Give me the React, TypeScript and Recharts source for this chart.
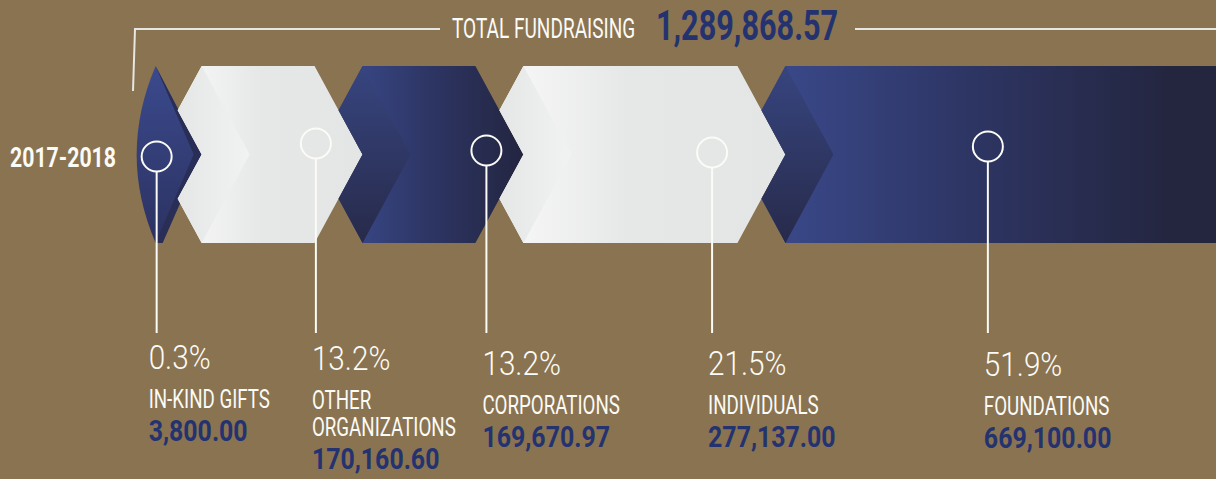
import React from 'react';
import { BarChart, Bar, XAxis, YAxis } from 'recharts';

// ---- data ----
const YEAR = '2017-2018';
const TITLE = 'TOTAL FUNDRAISING';
const CATEGORIES = ['IN-KIND GIFTS', 'OTHER\nORGANIZATIONS', 'CORPORATIONS', 'INDIVIDUALS', 'FOUNDATIONS'];
const SHARES = [0.3, 13.2, 13.2, 21.5, 51.9];
const AMOUNTS = [3800.0, 170160.6, 169670.97, 277137.0, 669100.0];

const KEYS = SHARES.map((_, i) => `s${i}`);
const chartData = [
  KEYS.reduce((row: any, k, i) => ({ ...row, [k]: SHARES[i] }), { year: YEAR }),
];
const total = AMOUNTS.reduce((a, b) => a + b, 0);
const money = (v: number) =>
  v.toLocaleString('en-US', { minimumFractionDigits: 2, maximumFractionDigits: 2 });

// ---- look ----
const BG = '#8a7350';
const NAVY = '#24336f';
const WHITE = '#fbfbf7';
const FONT = 'Roboto, "Liberation Sans", sans-serif';
const ARROW = 48; // horizontal depth of each chevron point
const MARKER_AT = [0, 0.71, 0.77, 0.72, 0.32]; // marker position inside each segment
const MARKER_DY = [2, -11, -4, -2, -8];
const LABEL_Y = [369, 370, 375, 375, 376];

const Squeezed = ({ x, y, sx, size, weight, fill, children }: any) => (
  <text
    transform={`translate(${x},${y}) scale(${sx},1)`}
    fontFamily={FONT}
    fontSize={size}
    fontWeight={weight}
    fill={fill}
  >
    {children}
  </text>
);

const renderSegment = (props: any, i: number) => {
  const { x, y, width, height } = props;
  const top = y;
  const bot = y + height;
  const mid = y + height / 2;
  const q = height / 4;
  const x0 = x;
  const x1 = x + width;
  const d = ARROW;
  const dark = i % 2 === 0;
  const last = i === SHARES.length - 1;

  let shapes: React.ReactNode;
  let cx: number;
  let tx: number;
  if (i === 0) {
    const r = x1 - d + 2;
    cx = r + 1;
    tx = cx - 8;
    shapes = (
      <>
        <path d={`M${r},${top} L${x1},${mid} L${r},${bot} Q${r - 38},${mid} ${r},${top} Z`} fill="url(#lens)" />
        <path
          d={`M${r},${top} L${x1},${mid} L${r + 7},${bot} L${r},${bot} L${x1 - 8},${mid} Z`}
          fill="#292e56"
        />
      </>
    );
  } else {
    const left = `M${x0},${top} L${x0 - d / 2},${top + q} L${x0},${mid} L${x0 - d / 2},${bot - q} L${x0},${bot}`;
    const right = last
      ? `L${x1 - height / 2},${bot} A${height / 2},${height / 2} 0 0 0 ${x1 - height / 2},${top} Z`
      : `L${x1 - d},${bot} L${x1},${mid} L${x1 - d},${top} Z`;
    cx = x0 + MARKER_AT[i] * width;
    tx = cx - 4;
    const bodyFill = dark ? (last ? 'url(#darkBodyLong)' : 'url(#darkBody)') : 'url(#lightBody)';
    shapes = (
      <>
        <path d={`${left} ${right}`} fill={bodyFill} />
        <path d={`${left} L${x0 + d},${mid} Z`} fill={dark ? 'url(#darkFacet)' : 'url(#lightFacet)'} />
      </>
    );
  }

  const cy = mid + MARKER_DY[i];
  const py = LABEL_Y[i];
  const lines = CATEGORIES[i].split('\n');
  const nameY = py + 39;
  const valueY = nameY + (lines.length - 1) * 27 + 33;

  return (
    <g>
      {shapes}
      <circle cx={cx} cy={cy} r={15} fill="none" stroke={WHITE} strokeWidth={2} />
      <line x1={cx} y1={cy + 15} x2={cx} y2={333} stroke={WHITE} strokeWidth={2} />
      <Squeezed x={tx} y={py} sx={0.9} size={33} weight={300} fill={WHITE}>
        {`${SHARES[i]}%`}
      </Squeezed>
      {lines.map((t, k) => (
        <Squeezed key={k} x={tx} y={nameY + k * 27} sx={0.75} size={25} weight={400} fill={WHITE}>
          {t}
        </Squeezed>
      ))}
      <Squeezed x={tx} y={valueY} sx={0.83} size={30} weight={700} fill={NAVY}>
        {money(AMOUNTS[i])}
      </Squeezed>
    </g>
  );
};

const YearTick = ({ y, payload }: any) => (
  <Squeezed x={10} y={y + 12.5} sx={0.76} size={28} weight={700} fill={WHITE}>
    {payload.value}
  </Squeezed>
);

export default function App() {
  return (
    <div
      style={{
        position: 'absolute',
        left: 0,
        top: 0,
        width: 1216,
        height: 479,
        overflow: 'hidden',
        background: BG,
      }}
    >
      <svg width={0} height={0} style={{ position: 'absolute' }}>
        <defs>
          <linearGradient id="darkBody" x1="0" y1="0" x2="1" y2="0">
            <stop offset="0%" stopColor="#3b4a8d" />
            <stop offset="50%" stopColor="#2d3563" />
            <stop offset="100%" stopColor="#232540" />
          </linearGradient>
          <linearGradient id="darkBodyLong" x1="0" y1="0" x2="1" y2="0">
            <stop offset="0%" stopColor="#3b4a8d" />
            <stop offset="32%" stopColor="#2d3563" />
            <stop offset="62%" stopColor="#242640" />
            <stop offset="100%" stopColor="#22243c" />
          </linearGradient>
          <linearGradient id="darkFacet" x1="0" y1="0" x2="0" y2="1">
            <stop offset="0%" stopColor="#37457f" />
            <stop offset="100%" stopColor="#272a4a" />
          </linearGradient>
          <linearGradient id="lightBody" x1="0" y1="0" x2="1" y2="0">
            <stop offset="0%" stopColor="#f8f8f8" />
            <stop offset="45%" stopColor="#e6e8e7" />
            <stop offset="100%" stopColor="#e4e6e5" />
          </linearGradient>
          <linearGradient id="lightFacet" x1="0" y1="0" x2="1" y2="0">
            <stop offset="0%" stopColor="#e5e7e6" />
            <stop offset="100%" stopColor="#f1f2f2" />
          </linearGradient>
          <linearGradient id="lens" x1="0" y1="0" x2="0" y2="1">
            <stop offset="0%" stopColor="#3b4a8d" />
            <stop offset="100%" stopColor="#2c3261" />
          </linearGradient>
        </defs>
      </svg>

      <BarChart
        width={1438}
        height={479}
        data={chartData}
        layout="vertical"
        margin={{ top: 56, right: 20, bottom: 226, left: 0 }}
        barCategoryGap="0%"
        barSize={177}
      >
        <XAxis type="number" domain={[0, 'dataMax']} hide />
        <YAxis
          type="category"
          dataKey="year"
          width={198}
          axisLine={false}
          tickLine={false}
          tick={<YearTick />}
        />
        {KEYS.map((k, i) => (
          <Bar
            key={k}
            dataKey={k}
            stackId="total"
            isAnimationActive={false}
            shape={(p: any) => renderSegment(p, i)}
          />
        ))}
      </BarChart>

      <svg
        width={1216}
        height={479}
        style={{ position: 'absolute', left: 0, top: 0, pointerEvents: 'none' }}
      >
        <path d="M133,91 L135,29 L440,29" fill="none" stroke="#e6e6e2" strokeWidth={2} />
        <line x1={855} y1={29} x2={1216} y2={29} stroke="#e6e6e2" strokeWidth={2} />
        <Squeezed x={452} y={38} sx={0.68} size={28} weight={400} fill={WHITE}>
          {TITLE}
        </Squeezed>
        <Squeezed x={656} y={40} sx={0.73} size={42} weight={700} fill={NAVY}>
          {money(total)}
        </Squeezed>
      </svg>
    </div>
  );
}
